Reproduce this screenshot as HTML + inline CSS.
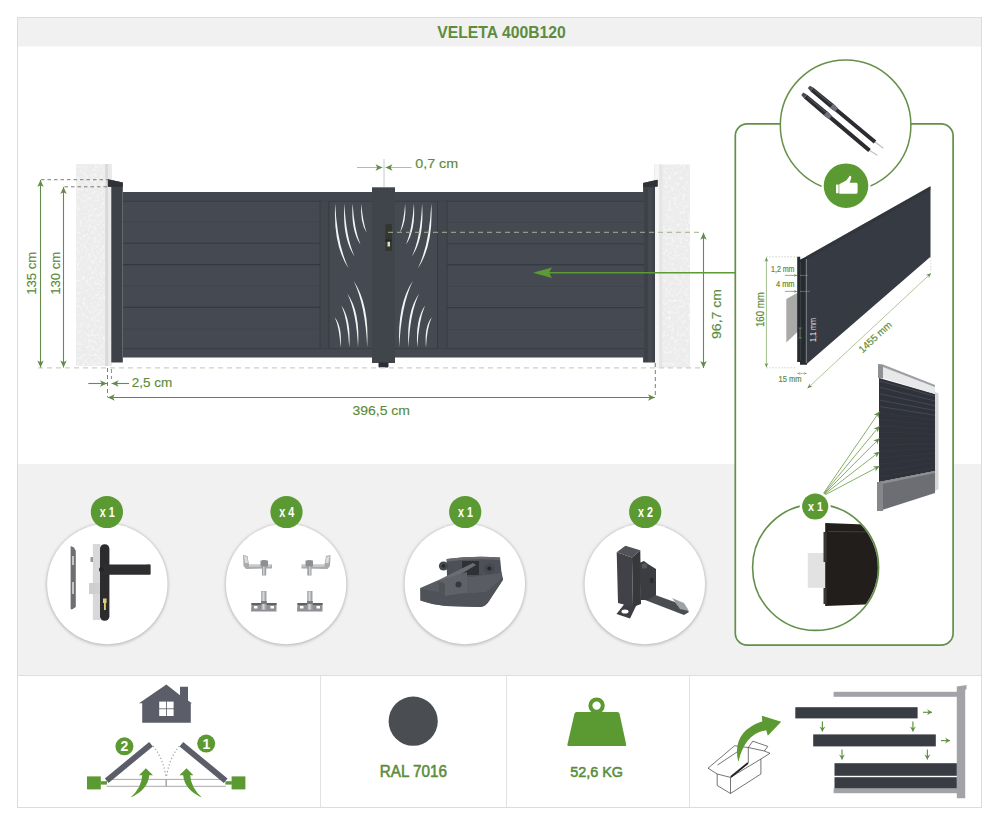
<!DOCTYPE html>
<html><head><meta charset="utf-8">
<style>
html,body{margin:0;padding:0;background:#fff;width:1000px;height:826px;overflow:hidden}
svg{display:block;font-family:"Liberation Sans",sans-serif}
</style></head>
<body>
<svg width="1000" height="826" viewBox="0 0 1000 826">
<rect x="0" y="0" width="1000" height="826" fill="#fff"/>
<rect x="17.5" y="17.5" width="964" height="790" fill="#fff" stroke="#dcdcdc" stroke-width="1"/>
<rect x="18" y="18" width="963" height="28.5" fill="#f1f1f1"/>
<rect x="18" y="464" width="963" height="211" fill="#f1f1f1"/>
<line x1="18" y1="675.5" x2="981" y2="675.5" stroke="#dedede"/>
<line x1="320.5" y1="676" x2="320.5" y2="807" stroke="#e2e2e2"/>
<line x1="506.5" y1="676" x2="506.5" y2="807" stroke="#e2e2e2"/>
<line x1="689.5" y1="676" x2="689.5" y2="807" stroke="#e2e2e2"/>
<text x="501.50" y="37.60" font-size="17.3" font-weight="bold" fill="#5c8c3c" text-anchor="middle" textLength="128.5" lengthAdjust="spacingAndGlyphs">VELETA 400B120</text>
<g id="gate">
  <!-- pillars -->
  <filter id="tex" x="0" y="0" width="100%" height="100%"><feTurbulence type="fractalNoise" baseFrequency="0.35" numOctaves="2" seed="3" result="n"/><feColorMatrix in="n" type="matrix" values="0 0 0 0 1  0 0 0 0 1  0 0 0 0 1  0 0 0 1.6 -0.75" result="w"/><feComposite in="w" in2="SourceGraphic" operator="in"/></filter>
  <rect x="76" y="164" width="36" height="202" fill="#ececec"/><rect x="76" y="164" width="29" height="202" fill="#ececec" filter="url(#tex)"/>
  <rect x="105.3" y="164" width="3" height="202" fill="#d9d9d9"/>
  <rect x="108.3" y="164" width="3.2" height="202" fill="#eaeaea"/>
  <rect x="654" y="164.5" width="36" height="203" fill="#ececec"/><rect x="662" y="164.5" width="28" height="203" fill="#ececec" filter="url(#tex)"/>
  <rect x="655" y="164.5" width="4" height="203" fill="#f6f6f6"/><rect x="659" y="164.5" width="3.5" height="203" fill="#e6e6e6"/>
  <!-- posts -->
  <path d="M107.9 179.3 L122.8 182.6 L122.8 362.5 L111.3 362.5 L111.3 186.7 L107.9 186.7 Z" fill="#3d4148"/>
  <path d="M107.9 179.3 L122.8 182.6 L122.8 186.7 L107.9 186.7 Z" fill="#2f3337"/>
  <path d="M643.1 183 L657.6 179.7 L657.6 186.5 L655 186.8 L655 362.6 L643.1 362.6 Z" fill="#3d4148"/>
  <path d="M643.1 183 L657.6 179.7 L657.6 186.5 L643.1 187 Z" fill="#2f3337"/>
  <rect x="648" y="188" width="4.5" height="174" fill="#454a52"/>
  <!-- main panel -->
  <rect x="123" y="192" width="521" height="165.5" fill="#454951"/>
  <rect x="123" y="192" width="521" height="9.5" fill="#42464e"/>
  <line x1="123" y1="201.3" x2="644" y2="201.3" stroke="#363a41" stroke-width="0.8"/>
  <line x1="123" y1="348.6" x2="644" y2="348.6" stroke="#363a41" stroke-width="0.8"/>
  <!-- slat lines left -->
  <g stroke-width="0.9">
    <line x1="123" y1="221.8" x2="320" y2="221.8" stroke="#40444b"/>
    <line x1="123" y1="243.3" x2="320" y2="243.3" stroke="#363a40"/>
    <line x1="123" y1="264.7" x2="320" y2="264.7" stroke="#2f3238"/>
    <line x1="123" y1="286" x2="320" y2="286" stroke="#40444b"/>
    <line x1="123" y1="307.3" x2="320" y2="307.3" stroke="#33363c"/>
    <line x1="123" y1="329" x2="320" y2="329" stroke="#40444b"/>
    <line x1="447" y1="222.5" x2="644" y2="222.5" stroke="#40444b"/>
    <line x1="447" y1="243.8" x2="644" y2="243.8" stroke="#363a40"/>
    <line x1="447" y1="264.8" x2="644" y2="264.8" stroke="#2f3238"/>
    <line x1="447" y1="286.5" x2="644" y2="286.5" stroke="#40444b"/>
    <line x1="447" y1="307.7" x2="644" y2="307.7" stroke="#33363c"/>
    <line x1="447" y1="329.5" x2="644" y2="329.5" stroke="#40444b"/>
  </g>
  <!-- dividers -->
  <rect x="320" y="201.5" width="9" height="147" fill="#42464e"/>
  <line x1="320" y1="201.5" x2="320" y2="348.5" stroke="#363a40" stroke-width="0.8"/>
  <line x1="329" y1="201.5" x2="329" y2="348.5" stroke="#33373d" stroke-width="0.8"/>
  <rect x="437.5" y="201.5" width="9.5" height="147" fill="#42464e"/>
  <line x1="437.5" y1="201.5" x2="437.5" y2="348.5" stroke="#33373d" stroke-width="0.8"/>
  <line x1="447" y1="201.5" x2="447" y2="348.5" stroke="#363a40" stroke-width="0.8"/>
  <!-- deco arcs left -->
  <g fill="#f4f4f4"><path d="M335.20 203.50 Q332.94 245.43 348.70 268.50 Q337.06 244.57 335.20 203.50 Z"/><path d="M344.40 203.50 Q342.04 238.38 354.60 256.50 Q345.96 237.62 344.40 203.50 Z"/><path d="M352.60 203.50 Q350.73 230.34 360.40 244.40 Q354.27 229.66 352.60 203.50 Z"/><path d="M361.30 203.50 Q359.82 222.27 366.70 232.80 Q362.78 221.73 361.30 203.50 Z"/><path d="M340.50 347.50 Q342.47 326.72 334.70 317.20 Q339.53 327.28 340.50 347.50 Z"/><path d="M349.20 347.50 Q351.27 319.68 341.50 305.50 Q347.73 320.32 349.20 347.50 Z"/><path d="M358.00 347.50 Q360.46 311.61 347.30 293.40 Q356.54 312.39 358.00 347.50 Z"/><path d="M367.20 347.50 Q369.56 304.58 353.60 280.80 Q365.44 305.42 367.20 347.50 Z"/></g>
  <g fill="#f4f4f4" transform="translate(766.5 0) scale(-1 1)"><path d="M335.20 203.50 Q332.94 245.43 348.70 268.50 Q337.06 244.57 335.20 203.50 Z"/><path d="M344.40 203.50 Q342.04 238.38 354.60 256.50 Q345.96 237.62 344.40 203.50 Z"/><path d="M352.60 203.50 Q350.73 230.34 360.40 244.40 Q354.27 229.66 352.60 203.50 Z"/><path d="M361.30 203.50 Q359.82 222.27 366.70 232.80 Q362.78 221.73 361.30 203.50 Z"/><path d="M340.50 347.50 Q342.47 326.72 334.70 317.20 Q339.53 327.28 340.50 347.50 Z"/><path d="M349.20 347.50 Q351.27 319.68 341.50 305.50 Q347.73 320.32 349.20 347.50 Z"/><path d="M358.00 347.50 Q360.46 311.61 347.30 293.40 Q356.54 312.39 358.00 347.50 Z"/><path d="M367.20 347.50 Q369.56 304.58 353.60 280.80 Q365.44 305.42 367.20 347.50 Z"/></g>
  <!-- center post -->
  <rect x="372" y="187.3" width="23" height="175.7" fill="#40444b"/>
  
  <rect x="378.5" y="362.5" width="10" height="5" rx="1" fill="#2b2e33"/>
  <!-- handle -->
  <rect x="385.3" y="224" width="6.7" height="27" rx="1" fill="#34372f"/>
  <rect x="387.5" y="241.5" width="2.5" height="5" fill="#dcdcc8"/><rect x="385.5" y="239.5" width="6" height="2" fill="#25271f"/>
</g>

<line x1="41" y1="179.7" x2="108" y2="179.7" stroke="#6b6f63" stroke-width="0.9" stroke-dasharray="3.5 3"/>
<line x1="64.5" y1="186.8" x2="108" y2="186.8" stroke="#6b6f63" stroke-width="0.9" stroke-dasharray="3.5 3"/>
<line x1="38" y1="367.8" x2="700" y2="367.8" stroke="#c9d3c0" stroke-width="1.2" stroke-dasharray="5 4"/>
<line x1="388" y1="232.3" x2="700" y2="232.3" stroke="#9fb58a" stroke-width="1" stroke-dasharray="5 4"/>
<line x1="107.5" y1="368" x2="107.5" y2="397" stroke="#6b6f63" stroke-width="0.9" stroke-dasharray="4 3"/>
<line x1="111.4" y1="369" x2="111.4" y2="379" stroke="#6b6f63" stroke-width="0.8" stroke-dasharray="4 3"/>
<line x1="655.3" y1="363" x2="655.3" y2="397" stroke="#6b6f63" stroke-width="0.9" stroke-dasharray="4 3"/>
<line x1="40.50" y1="180.00" x2="40.50" y2="367.50" stroke="#648a4c" stroke-width="1.1"/><path d="M40.50 367.50 L37.30 360.50 L40.50 362.30 L43.70 360.50 Z" fill="#648a4c"/><path d="M40.50 180.00 L43.70 187.00 L40.50 185.20 L37.30 187.00 Z" fill="#648a4c"/>
<line x1="63.50" y1="187.00" x2="63.50" y2="367.50" stroke="#648a4c" stroke-width="1.1"/><path d="M63.50 367.50 L60.30 360.50 L63.50 362.30 L66.70 360.50 Z" fill="#648a4c"/><path d="M63.50 187.00 L66.70 194.00 L63.50 192.20 L60.30 194.00 Z" fill="#648a4c"/>
<text x="35.60" y="273.30" font-size="12.8" font-weight="normal" fill="#5b8c3a" text-anchor="middle" textLength="43" lengthAdjust="spacingAndGlyphs" transform="rotate(-90 35.60 273.30)" stroke="#5b8c3a" stroke-width="0.15">135 cm</text>
<text x="59.80" y="273.30" font-size="12.8" font-weight="normal" fill="#5b8c3a" text-anchor="middle" textLength="43" lengthAdjust="spacingAndGlyphs" transform="rotate(-90 59.80 273.30)" stroke="#5b8c3a" stroke-width="0.15">130 cm</text>
<line x1="384" y1="159" x2="384" y2="187" stroke="#c8c8c8" stroke-width="1"/>
<line x1="357.00" y1="167.50" x2="382.50" y2="167.50" stroke="#a9c48f" stroke-width="1"/><path d="M382.50 167.50 L375.50 170.70 L377.30 167.50 L375.50 164.30 Z" fill="#648a4c"/>
<line x1="411.50" y1="167.50" x2="385.50" y2="167.50" stroke="#a9c48f" stroke-width="1"/><path d="M385.50 167.50 L392.50 164.30 L390.70 167.50 L392.50 170.70 Z" fill="#648a4c"/>
<text x="415.20" y="167.60" font-size="13" font-weight="normal" fill="#5b8c3a" text-anchor="start" textLength="43" lengthAdjust="spacingAndGlyphs" stroke="#5b8c3a" stroke-width="0.15">0,7 cm</text>
<line x1="88.30" y1="383.50" x2="107.00" y2="383.50" stroke="#648a4c" stroke-width="1.1"/><path d="M107.00 383.50 L100.00 386.70 L101.80 383.50 L100.00 380.30 Z" fill="#648a4c"/>
<line x1="129.00" y1="383.50" x2="111.60" y2="383.50" stroke="#648a4c" stroke-width="1.1"/><path d="M111.60 383.50 L118.60 380.30 L116.80 383.50 L118.60 386.70 Z" fill="#648a4c"/>
<text x="131.70" y="387.00" font-size="13" font-weight="normal" fill="#5b8c3a" text-anchor="start" textLength="40.5" lengthAdjust="spacingAndGlyphs" stroke="#5b8c3a" stroke-width="0.15">2,5 cm</text>
<line x1="107.80" y1="397.50" x2="655.00" y2="397.50" stroke="#6b7a62" stroke-width="1.1"/><path d="M655.00 397.50 L648.00 400.70 L649.80 397.50 L648.00 394.30 Z" fill="#648a4c"/><path d="M107.80 397.50 L114.80 394.30 L113.00 397.50 L114.80 400.70 Z" fill="#648a4c"/>
<text x="352.50" y="414.50" font-size="13" font-weight="normal" fill="#5b8c3a" text-anchor="start" textLength="57.5" lengthAdjust="spacingAndGlyphs" stroke="#5b8c3a" stroke-width="0.15">396,5 cm</text>
<line x1="703.50" y1="232.80" x2="703.50" y2="368.00" stroke="#648a4c" stroke-width="1.1"/><path d="M703.50 368.00 L700.30 361.00 L703.50 362.80 L706.70 361.00 Z" fill="#648a4c"/><path d="M703.50 232.80 L706.70 239.80 L703.50 238.00 L700.30 239.80 Z" fill="#648a4c"/>
<text x="721.00" y="314.00" font-size="13" font-weight="normal" fill="#5b8c3a" text-anchor="middle" textLength="50" lengthAdjust="spacingAndGlyphs" transform="rotate(-90 721.00 314.00)" stroke="#5b8c3a" stroke-width="0.15">96,7 cm</text>
<line x1="548" y1="272.7" x2="735.5" y2="272.7" stroke="#5c9a34" stroke-width="1.35"/>
<path d="M533 272.7 L552 267.5 L549 272.7 L552 278 Z" fill="#5c9a34"/>
<rect x="735.3" y="123.8" width="217.8" height="521.4" rx="12" ry="12" fill="#fff" stroke="#62904a" stroke-width="1.7"/>
<circle cx="845.6" cy="125.3" r="65.3" fill="#fff" stroke="#66904a" stroke-width="1.5"/>
<line x1="875" y1="142" x2="883" y2="148" stroke="#bdbdbd" stroke-width="1.1" stroke-linecap="round"/><path d="M813.54 87.66 L834.45 104.83 L838.48 108.96 L876.28 140.46 L873.72 143.54 L835.92 112.04 L831.13 108.82 L810.46 91.34 Z" fill="#2b2c31"/><path d="M833.19 103.78 L837.91 108.36 L835.23 111.59 L829.87 107.77 Z" fill="#6e6f77"/><path d="M814.16 89.47 L831.86 104.10 L831.28 104.79 L813.58 90.17 Z" fill="#55565e"/><path d="M809.87 85.65 L813.54 87.66 L810.46 91.34 L807.83 88.10 Z" fill="#4a4b52"/>
<line x1="869.5" y1="150.5" x2="877" y2="155" stroke="#bdbdbd" stroke-width="1.1" stroke-linecap="round"/><path d="M807.05 94.67 L828.30 112.33 L832.39 116.57 L870.79 148.97 L868.21 152.03 L829.81 119.63 L824.94 116.31 L803.95 98.33 Z" fill="#2b2c31"/><path d="M827.02 111.25 L831.81 115.95 L829.11 119.17 L823.66 115.23 Z" fill="#6e6f77"/><path d="M807.68 96.51 L825.67 111.55 L825.09 112.24 L807.10 97.20 Z" fill="#55565e"/><path d="M803.33 92.58 L807.05 94.67 L803.95 98.33 L801.27 95.02 Z" fill="#4a4b52"/>
<circle cx="846" cy="185.7" r="24.5" fill="#fff"/>
<circle cx="846" cy="185.7" r="22.3" fill="#5b9a32"/>
<rect x="836" y="184.6" width="2.6" height="8.6" fill="#fff"/>
<path d="M839.3 184.3 L846.5 180.3 L849.8 175.8 Q851.5 175.6 851.3 178 L849.6 182.8 L856.6 182.8 Q857.8 183.2 857.6 184.6 L857.6 192.6 Q857.4 193.8 856 193.8 L839.3 193.8 Z" fill="#fff"/>
<path d="M806.6 256.2 L930.5 186.3 L930.5 256.7 L807 363.8 Z" fill="#363a43"/>
<path d="M806.6 256.2 L930.5 186.3 L930.5 190 L806.6 260 Z" fill="#2f333b" opacity="0.6"/>
<path d="M786.3 299 L798.5 292.3 L798.5 331 L786.3 342.4 Z" fill="#a9a9a7"/>
<path d="M797.2 256.8 L800.2 256.8 L800.2 259.5 L807 256.2 L807 364.7 L800 364.7 L800 362 L797.2 362 Z" fill="#262a31"/>
<line x1="806.3" y1="259" x2="806.3" y2="363" stroke="#c8ccd0" stroke-width="0.6"/>
<line x1="800.6" y1="262" x2="800.6" y2="360" stroke="#4c5158" stroke-width="0.6"/>
<path d="M800 328 L800 338 M798.5 328 L802 328 M798.5 338 L802 338" stroke="#7aa05a" stroke-width="0.6" fill="none"/>
<line x1="766.4" y1="256.8" x2="797" y2="256.8" stroke="#c2ccb8" stroke-width="0.8" stroke-dasharray="1.5 1.5"/>
<line x1="766.4" y1="367.8" x2="797" y2="367.8" stroke="#c2ccb8" stroke-width="0.8" stroke-dasharray="1.5 1.5"/>
<line x1="766.40" y1="257.50" x2="766.40" y2="367.30" stroke="#8fae72" stroke-width="0.8"/><path d="M766.40 367.30 L764.40 362.80 L766.40 364.60 L768.40 362.80 Z" fill="#648a4c"/><path d="M766.40 257.50 L768.40 262.00 L766.40 260.20 L764.40 262.00 Z" fill="#648a4c"/>
<text x="764.30" y="309.60" font-size="10.5" font-weight="normal" fill="#5b8c3a" text-anchor="middle" textLength="35" lengthAdjust="spacingAndGlyphs" transform="rotate(-90 764.30 309.60)" stroke="#5b8c3a" stroke-width="0.2">160 mm</text>
<text x="771.00" y="272.00" font-size="8.3" font-weight="normal" fill="#5b8c3a" text-anchor="start" textLength="23.5" lengthAdjust="spacingAndGlyphs" stroke="#5b8c3a" stroke-width="0.2">1,2 mm</text>
<text x="776.00" y="287.00" font-size="8.3" font-weight="normal" fill="#5b8c3a" text-anchor="start" textLength="18.5" lengthAdjust="spacingAndGlyphs" stroke="#5b8c3a" stroke-width="0.2">4 mm</text>
<line x1="785.00" y1="275.40" x2="797.00" y2="275.40" stroke="#6a8a50" stroke-width="0.7"/><path d="M797.00 275.40 L793.50 277.00 L795.30 275.40 L793.50 273.80 Z" fill="#648a4c"/>
<line x1="785.00" y1="291.40" x2="797.00" y2="291.40" stroke="#6a8a50" stroke-width="0.7"/><path d="M797.00 291.40 L793.50 293.00 L795.30 291.40 L793.50 289.80 Z" fill="#648a4c"/>
<line x1="800" y1="275.4" x2="808" y2="275.4" stroke="#7aa05a" stroke-width="0.6"/>
<line x1="800" y1="291.4" x2="810" y2="291.4" stroke="#7aa05a" stroke-width="0.6"/>
<text x="816.00" y="330.00" font-size="8.5" font-weight="normal" fill="#e6e6e6" text-anchor="middle" textLength="24" lengthAdjust="spacingAndGlyphs" transform="rotate(-90 816.00 330.00)">1,1 mm</text>
<line x1="797.50" y1="373.40" x2="806.50" y2="373.40" stroke="#8fae72" stroke-width="0.7"/><path d="M806.50 373.40 L803.50 374.90 L805.30 373.40 L803.50 371.90 Z" fill="#648a4c"/><path d="M797.50 373.40 L800.50 371.90 L798.70 373.40 L800.50 374.90 Z" fill="#648a4c"/>
<text x="778.60" y="382.20" font-size="8.8" font-weight="normal" fill="#5b8c3a" text-anchor="start" textLength="23" lengthAdjust="spacingAndGlyphs" stroke="#5b8c3a" stroke-width="0.2">15 mm</text>
<line x1="807.50" y1="388.30" x2="931.00" y2="273.30" stroke="#8fae72" stroke-width="0.7"/><path d="M931.00 273.30 L928.84 278.32 L928.66 275.48 L925.84 275.10 Z" fill="#648a4c"/><path d="M807.50 388.30 L809.66 383.28 L809.84 386.12 L812.66 386.50 Z" fill="#648a4c"/>
<line x1="930.8" y1="257" x2="930.8" y2="272" stroke="#c2ccb8" stroke-width="0.7" stroke-dasharray="1.5 1.5"/>
<text x="877.50" y="339.50" font-size="10" font-weight="normal" fill="#5b8c3a" text-anchor="middle" textLength="41" lengthAdjust="spacingAndGlyphs" transform="rotate(-42.6 877.50 339.50)" stroke="#5b8c3a" stroke-width="0.2">1455 mm</text>
<path d="M935 392 L938.5 393.5 L938.5 489 L935 491 Z" fill="#d6d6d8"/>
<path d="M879 378 L935 394 L935 471 L879 482 Z" fill="#2f323a"/>
<line x1="880" y1="381.00" x2="935" y2="396.22" stroke="#4e525a" stroke-width="0.7"/>
<line x1="880" y1="387.40" x2="935" y2="400.96" stroke="#4e525a" stroke-width="0.7"/>
<line x1="880" y1="393.80" x2="935" y2="405.70" stroke="#4e525a" stroke-width="0.7"/>
<line x1="880" y1="400.20" x2="935" y2="410.44" stroke="#4e525a" stroke-width="0.7"/>
<line x1="880" y1="406.60" x2="935" y2="415.18" stroke="#4e525a" stroke-width="0.7"/>
<line x1="880" y1="413.00" x2="935" y2="419.91" stroke="#363a41" stroke-width="0.7"/>
<line x1="880" y1="419.40" x2="935" y2="424.65" stroke="#363a41" stroke-width="0.7"/>
<line x1="880" y1="425.80" x2="935" y2="429.39" stroke="#363a41" stroke-width="0.7"/>
<line x1="880" y1="432.20" x2="935" y2="434.13" stroke="#363a41" stroke-width="0.7"/>
<line x1="880" y1="438.60" x2="935" y2="438.87" stroke="#363a41" stroke-width="0.7"/>
<line x1="880" y1="445.00" x2="935" y2="443.61" stroke="#363a41" stroke-width="0.7"/>
<line x1="880" y1="451.40" x2="935" y2="448.34" stroke="#363a41" stroke-width="0.7"/>
<line x1="880" y1="457.80" x2="935" y2="453.08" stroke="#363a41" stroke-width="0.7"/>
<line x1="880" y1="464.20" x2="935" y2="457.82" stroke="#363a41" stroke-width="0.7"/>
<line x1="880" y1="470.60" x2="935" y2="462.56" stroke="#363a41" stroke-width="0.7"/>
<line x1="880" y1="477.00" x2="935" y2="467.30" stroke="#363a41" stroke-width="0.7"/>
<path d="M883 364.5 L935 385 L935 394 L883 378 Z" fill="#e8e8ea"/>
<path d="M883 364.5 L935 385 L935 387 L883 367 Z" fill="#9d9fa3"/>
<path d="M878 364 L883 364.5 L883 378.5 L878 378 Z" fill="#8e9094"/>
<path d="M879 482 L935 471 L935 493 L879 511 Z" fill="#6c6e73"/>
<path d="M879 482 L935 471 L935 473 L879 484.5 Z" fill="#8d8f93"/>
<path d="M877 482 L883 482 L883 511 L877 511 Z" fill="#85878b"/>
<line x1="821.00" y1="497.00" x2="879.50" y2="411.60" stroke="#6fa04c" stroke-width="0.85"/><path d="M879.50 411.60 L878.42 418.13 L877.13 415.06 L873.80 414.97 Z" fill="#648a4c"/>
<line x1="821.00" y1="497.00" x2="879.50" y2="426.00" stroke="#6fa04c" stroke-width="0.85"/><path d="M879.50 426.00 L877.85 432.41 L876.83 429.24 L873.52 428.85 Z" fill="#648a4c"/>
<line x1="821.00" y1="497.00" x2="879.50" y2="438.30" stroke="#6fa04c" stroke-width="0.85"/><path d="M879.50 438.30 L877.25 444.53 L876.54 441.27 L873.28 440.57 Z" fill="#648a4c"/>
<line x1="821.00" y1="497.00" x2="879.50" y2="451.70" stroke="#6fa04c" stroke-width="0.85"/><path d="M879.50 451.70 L876.47 457.59 L876.18 454.27 L873.04 453.16 Z" fill="#648a4c"/>
<line x1="821.00" y1="497.00" x2="879.50" y2="466.10" stroke="#6fa04c" stroke-width="0.85"/><path d="M879.50 466.10 L875.50 471.38 L875.79 468.06 L872.89 466.43 Z" fill="#648a4c"/>
<circle cx="815.6" cy="567.4" r="63" fill="#fff" stroke="#62904a" stroke-width="1.6"/>
<clipPath id="cc"><circle cx="815.6" cy="567.4" r="62.2"/></clipPath>
<g clip-path="url(#cc)">
<rect x="807.8" y="553" width="17.5" height="34.8" fill="#e2e2e2"/>
<path d="M825.2 523 L880 525 L880 604 L825.2 606 Z" fill="#221e1b"/>
<line x1="828" y1="531.5" x2="880" y2="532" stroke="#5a5550" stroke-width="0.6"/>
<rect x="823.5" y="532" width="3.2" height="30" fill="#3a3633"/>
<rect x="823.5" y="588" width="3.2" height="16" fill="#3a3633"/>
</g>
<circle cx="815.2" cy="506.5" r="15.5" fill="#fff"/>
<circle cx="815.2" cy="506.5" r="13.1" fill="#5b9a32"/>
<text x="815.40" y="511.00" font-size="12" font-weight="bold" fill="#fff" text-anchor="middle" textLength="15" lengthAdjust="spacingAndGlyphs">x 1</text>
<filter id="cs" x="-10%" y="-10%" width="120%" height="120%"><feGaussianBlur stdDeviation="1.4"/></filter>
<circle cx="107.3" cy="584.6" r="61" fill="#bbbbbb" filter="url(#cs)"/>
<circle cx="107.3" cy="584" r="60.2" fill="#fff"/>
<circle cx="286.1" cy="584.6" r="61" fill="#bbbbbb" filter="url(#cs)"/>
<circle cx="286.1" cy="584" r="60.2" fill="#fff"/>
<circle cx="464.8" cy="584.6" r="61" fill="#bbbbbb" filter="url(#cs)"/>
<circle cx="464.8" cy="584" r="60.2" fill="#fff"/>
<circle cx="644.8" cy="584.6" r="61" fill="#bbbbbb" filter="url(#cs)"/>
<circle cx="644.8" cy="584" r="60.2" fill="#fff"/>
<circle cx="106.9" cy="512" r="16.1" fill="#5b9a32"/>
<text x="107.20" y="517.20" font-size="14.3" font-weight="bold" fill="#fff" text-anchor="middle" textLength="15" lengthAdjust="spacingAndGlyphs">x 1</text>
<circle cx="286.5" cy="512" r="16.1" fill="#5b9a32"/>
<text x="286.80" y="517.20" font-size="14.3" font-weight="bold" fill="#fff" text-anchor="middle" textLength="15" lengthAdjust="spacingAndGlyphs">x 4</text>
<circle cx="465.2" cy="512" r="16.1" fill="#5b9a32"/>
<text x="465.50" y="517.20" font-size="14.3" font-weight="bold" fill="#fff" text-anchor="middle" textLength="15" lengthAdjust="spacingAndGlyphs">x 1</text>
<circle cx="645.2" cy="512" r="16.1" fill="#5b9a32"/>
<text x="645.50" y="517.20" font-size="14.3" font-weight="bold" fill="#fff" text-anchor="middle" textLength="15" lengthAdjust="spacingAndGlyphs">x 2</text>
<path d="M70.6 546 L74 547.5 L75.8 551 L75.8 607 L72 609.5 L70.6 609 Z" fill="#6d6f73"/>
<rect x="72.3" y="556" width="1.4" height="9" fill="#e8e8e8"/><rect x="72.3" y="582" width="1.4" height="12" fill="#e8e8e8"/>
<rect x="92.8" y="544" width="7.5" height="76" fill="#d8d8d8"/>
<rect x="89" y="583" width="11" height="11" fill="#cfcfcf"/>
<rect x="90.5" y="557" width="2.5" height="5" fill="#9a9a9a"/>
<rect x="100" y="544.2" width="9.4" height="76.5" rx="4.5" fill="#2c2c2e"/>
<path d="M101 569.5 L150.4 564.6 L150.4 574.6 L101 574.6 Z" fill="#2c2c2e"/>
<rect x="101" y="564.6" width="49.4" height="10" rx="1.2" fill="#2e2e30"/>
<circle cx="101.5" cy="569.6" r="2.5" fill="#262628"/>
<rect x="103" y="598.5" width="3.6" height="4.5" fill="#e2cc7a"/><rect x="104" y="603" width="1.8" height="7" fill="#e2cc7a"/>
<g transform="translate(243 0)"><path d="M0 555 L4.5 556 L6 564.5 L29 564.5 L29 568.5 L3 569 L0.5 566 Z" fill="#a9abad"/><path d="M1 556 L4 557 L5 563 L2 563 Z" fill="#dcdcdc"/><rect x="6" y="565.2" width="22" height="1.4" fill="#d2d2d2"/><rect x="19" y="560" width="4.2" height="15.5" fill="#9c9ea1"/><rect x="20" y="561" width="1.6" height="14" fill="#cfd0d2"/><rect x="17.5" y="560.5" width="7.5" height="6" fill="#8d8f92"/></g>
<g transform="translate(330.5 0) scale(-1 1)"><path d="M0 555 L4.5 556 L6 564.5 L29 564.5 L29 568.5 L3 569 L0.5 566 Z" fill="#a9abad"/><path d="M1 556 L4 557 L5 563 L2 563 Z" fill="#dcdcdc"/><rect x="6" y="565.2" width="22" height="1.4" fill="#d2d2d2"/><rect x="19" y="560" width="4.2" height="15.5" fill="#9c9ea1"/><rect x="20" y="561" width="1.6" height="14" fill="#cfd0d2"/><rect x="17.5" y="560.5" width="7.5" height="6" fill="#8d8f92"/></g>
<g transform="translate(251 0)"><path d="M0.5 603 L25.5 603 L25.5 611.5 L0 611.5 Z" fill="#8e9093"/><path d="M0.5 603 L25.5 603 L25.5 605 L0.5 605 Z" fill="#5f6164"/><rect x="3" y="606" width="3.5" height="2.5" fill="#fff"/><rect x="19.5" y="606" width="3.5" height="2.5" fill="#fff"/><rect x="10.2" y="591" width="5.3" height="19" fill="#a2a4a7"/><rect x="11.5" y="591.5" width="2" height="18" fill="#d6d7d8"/><rect x="10" y="601" width="5.8" height="3" fill="#7a7c80"/></g>
<g transform="translate(297 0)"><path d="M0.5 603 L25.5 603 L25.5 611.5 L0 611.5 Z" fill="#8e9093"/><path d="M0.5 603 L25.5 603 L25.5 605 L0.5 605 Z" fill="#5f6164"/><rect x="3" y="606" width="3.5" height="2.5" fill="#fff"/><rect x="19.5" y="606" width="3.5" height="2.5" fill="#fff"/><rect x="10.2" y="591" width="5.3" height="19" fill="#a2a4a7"/><rect x="11.5" y="591.5" width="2" height="18" fill="#d6d7d8"/><rect x="10" y="601" width="5.8" height="3" fill="#7a7c80"/></g>
<path d="M420.2 588 L437.5 580.5 L501.5 572 L503 579 L489 601 Q486 606.5 480 607 L446 606 Q432 604.5 420.5 600.5 Z" fill="#595c62"/>
<path d="M420.5 588.5 Q450 596 486 592 L503 577.5 L503 580 L489 601 Q486 606.5 480 607 L446 606 Q432 604.5 420.5 600.5 Z" fill="#4f5258"/>
<path d="M446.5 559 Q474 555.5 500 557.5 L501.5 573 L470 577 L447 576.5 Z" fill="#4d5056"/>
<path d="M447 559 Q474 555.5 500 557.5 L500 560 Q474 558 447 561.5 Z" fill="#66696e"/>
<rect x="462" y="561" width="17" height="14" fill="#2f3135"/>
<path d="M437.5 580.5 L473 563 L476 565 L446 583 Z" fill="#6a6d72"/>
<path d="M438 581 L467 572 L467 592.5 L445 596 Z" fill="#5f6268"/>
<path d="M438 581 L445 583.5 L445 596 L439.5 594.5 Z" fill="#505358"/>
<circle cx="458.5" cy="584.5" r="3" fill="#36383d"/>
<circle cx="443.5" cy="566" r="4.6" fill="#44474c"/><circle cx="443.5" cy="566" r="1.8" fill="#25272a"/>
<circle cx="489.3" cy="568.5" r="5.3" fill="#46494e"/><circle cx="489.3" cy="568.5" r="2" fill="#25272a"/>
<path d="M626 602 L637 604 L630 618.5 L616.5 614 Z" fill="#3c3e42"/>
<ellipse cx="625" cy="611.5" rx="3.5" ry="2" fill="#fff"/>
<path d="M647 592 L683 605 L689 612 L684 615 L645 600 Z" fill="#4a4d52"/>
<path d="M672 598 L684 603 L689 611 L680 609 Z" fill="#9ea1a3"/>
<path d="M632 557.5 L640.3 550.3 L641 604 L633 607 Z" fill="#36383c"/>
<path d="M616.7 552.3 L632 557.5 L633 607 L618 603 Z" fill="#404247"/>
<path d="M616.7 552.3 L625.4 545.7 L640.3 550.3 L632 557.5 Z" fill="#505358"/>
<path d="M639 563 L644 561 L648 564 L656 569 L656 595 L648 600 L641 600 Z" fill="#3b3d41"/>
<circle cx="644.5" cy="566" r="2.8" fill="#55585c"/>
<rect x="650" y="578" width="3.5" height="5" fill="#2a2c30"/>
<path d="M166.4 684.6 L139 703.2 L142.2 703.2 L142.2 722.7 L190.8 722.7 L190.8 703.2 L192 703.2 L188 700.5 L188 686.8 L180 686.8 L180 695.2 Z" fill="#5b5e68"/>
<rect x="159.2" y="701.6" width="6.8" height="6.8" fill="#fff"/><rect x="166.8" y="701.6" width="6.8" height="6.8" fill="#fff"/>
<rect x="159.2" y="709.2" width="6.8" height="6.8" fill="#fff"/><rect x="166.8" y="709.2" width="6.8" height="6.8" fill="#fff"/>
<line x1="110" y1="779.4" x2="223" y2="779.4" stroke="#a9a9ad" stroke-width="1"/>
<line x1="106.5" y1="786.3" x2="226" y2="786.3" stroke="#a9a9ad" stroke-width="1"/>
<line x1="166.2" y1="779" x2="166.2" y2="786.5" stroke="#a0a0a4" stroke-width="1.4"/>
<path d="M153 746 Q163 758 165.8 776" fill="none" stroke="#a6a6aa" stroke-width="1.2" stroke-dasharray="1.3 2.2"/>
<path d="M179.4 746 Q169.4 758 166.6 776" fill="none" stroke="#a6a6aa" stroke-width="1.2" stroke-dasharray="1.3 2.2"/>
<line x1="106.7" y1="780.7" x2="151" y2="744.2" stroke="#5b5e68" stroke-width="5.8"/>
<line x1="225.7" y1="780.7" x2="181.4" y2="744.2" stroke="#5b5e68" stroke-width="5.8"/>
<rect x="87" y="776.4" width="13.8" height="13" fill="#5b9a32"/>
<rect x="100.5" y="781.2" width="6.5" height="3.4" fill="#5b9a32"/>
<rect x="231.6" y="776.4" width="13.8" height="13" fill="#5b9a32"/>
<rect x="225.4" y="781.2" width="6.5" height="3.4" fill="#5b9a32"/>
<circle cx="124.4" cy="746.3" r="9" fill="#5b9a32"/>
<text x="124.50" y="751.30" font-size="14" font-weight="bold" fill="#fff" text-anchor="middle">2</text>
<circle cx="206.2" cy="743.6" r="9" fill="#5b9a32"/>
<text x="206.30" y="748.60" font-size="14" font-weight="bold" fill="#fff" text-anchor="middle">1</text>
<path d="M130.4 797.6 Q148 790 149.2 775.3 L153 775.3 L145.9 768.2 L139 775.3 L142.2 775.3 Q141.5 788 130.4 797.6 Z" fill="#5b9a32"/>
<path d="M130.4 797.6 Q148 790 149.2 775.3 L153 775.3 L145.9 768.2 L139 775.3 L142.2 775.3 Q141.5 788 130.4 797.6 Z" fill="#5b9a32" transform="translate(332.4 0) scale(-1 1)"/>
<circle cx="413.2" cy="721.2" r="24.6" fill="#4a4d52"/>
<text x="379.70" y="777.10" font-size="15.9" font-weight="normal" fill="#5b8c3a" text-anchor="start" textLength="67.3" lengthAdjust="spacingAndGlyphs" stroke="#5b8c3a" stroke-width="0.55">RAL 7016</text>
<circle cx="596.6" cy="705.6" r="6.2" fill="none" stroke="#5b9a32" stroke-width="4"/>
<path d="M576.5 712 L617.5 712 Q619 712 619.5 713.5 L626.2 744.5 Q626.5 746 625 746 L568.5 746 Q567 746 567.4 744.5 L574.5 713.5 Q575 712 576.5 712 Z" fill="#5b9a32"/>
<text x="570.20" y="776.60" font-size="15.4" font-weight="normal" fill="#5b8c3a" text-anchor="start" textLength="52.8" lengthAdjust="spacingAndGlyphs" stroke="#5b8c3a" stroke-width="0.55">52,6 KG</text>
<rect x="833.6" y="691.8" width="126" height="5" fill="#a2a2a8"/>
<path d="M956.8 686.5 L966.5 685 L966.5 689.5 L965.2 689.5 L965.2 798.2 L956.8 798.2 Z" fill="#a2a2a8"/>
<rect x="833.6" y="788.4" width="126" height="4.8" fill="#a2a2a8"/>
<rect x="795.3" y="707.2" width="122.3" height="11.2" fill="#393c42"/>
<rect x="813.2" y="734.4" width="122.6" height="12" fill="#393c42"/>
<rect x="834.5" y="763.2" width="122.3" height="12.6" fill="#393c42"/>
<rect x="834.5" y="777.2" width="122.3" height="11.2" fill="#393c42"/>
<line x1="923.00" y1="712.30" x2="932.00" y2="712.30" stroke="#5f9a3c" stroke-width="1.2"/><path d="M932.00 712.30 L927.00 715.30 L928.80 712.30 L927.00 709.30 Z" fill="#648a4c"/>
<line x1="941.00" y1="740.60" x2="950.00" y2="740.60" stroke="#5f9a3c" stroke-width="1.2"/><path d="M950.00 740.60 L945.00 743.60 L946.80 740.60 L945.00 737.60 Z" fill="#648a4c"/>
<line x1="822.40" y1="721.50" x2="822.40" y2="731.50" stroke="#5f9a3c" stroke-width="1.2"/><path d="M822.40 731.50 L819.40 726.50 L822.40 728.30 L825.40 726.50 Z" fill="#648a4c"/>
<line x1="912.90" y1="721.50" x2="912.90" y2="731.50" stroke="#5f9a3c" stroke-width="1.2"/><path d="M912.90 731.50 L909.90 726.50 L912.90 728.30 L915.90 726.50 Z" fill="#648a4c"/>
<line x1="842.00" y1="749.50" x2="842.00" y2="759.50" stroke="#5f9a3c" stroke-width="1.2"/><path d="M842.00 759.50 L839.00 754.50 L842.00 756.30 L845.00 754.50 Z" fill="#648a4c"/>
<line x1="927.40" y1="749.50" x2="927.40" y2="759.50" stroke="#5f9a3c" stroke-width="1.2"/><path d="M927.40 759.50 L924.40 754.50 L927.40 756.30 L930.40 754.50 Z" fill="#648a4c"/>
<path d="M717.2 774 L717.2 785.5 L730.5 793.5 L760.9 774 L760.9 759" fill="none" stroke="#3a3a3a" stroke-width="0.7" stroke-linejoin="round"/>
<path d="M730.5 777.4 L730.5 793.5" fill="none" stroke="#3a3a3a" stroke-width="0.7" stroke-linejoin="round"/>
<path d="M717.2 774 L730.5 777.4 L760.9 759" fill="none" stroke="#3a3a3a" stroke-width="0.7" stroke-linejoin="round"/>
<path d="M708 768.2 L717.2 774" fill="none" stroke="#3a3a3a" stroke-width="0.7" stroke-linejoin="round"/>
<path d="M708 768.2 L734.5 745.8 L748.3 747.5" fill="none" stroke="#3a3a3a" stroke-width="0.7" stroke-linejoin="round"/>
<path d="M717.5 765 L743 748" fill="none" stroke="#3a3a3a" stroke-width="0.7" stroke-linejoin="round"/>
<path d="M748.3 747.5 L752.8 741.2 L767.8 746.4 L764.3 751 L770 753.3 L760.9 759" fill="none" stroke="#3a3a3a" stroke-width="0.7" stroke-linejoin="round"/>
<path d="M748.3 747.5 L748.3 763" fill="none" stroke="#3a3a3a" stroke-width="0.7" stroke-linejoin="round"/>
<path d="M748.3 747.5 L764.3 751" fill="none" stroke="#3a3a3a" stroke-width="0.7" stroke-linejoin="round"/>
<line x1="730.8" y1="777" x2="748" y2="763" stroke="#222" stroke-width="1.8"/>
<path d="M738.3 762 Q731 732 762.3 721.2 L761.8 715.8 L781.2 721.8 L767.8 735.8 L766.2 730.2 Q745 733.5 738.3 762 Z" fill="#5b9a32"/>
</svg>
</body></html>
